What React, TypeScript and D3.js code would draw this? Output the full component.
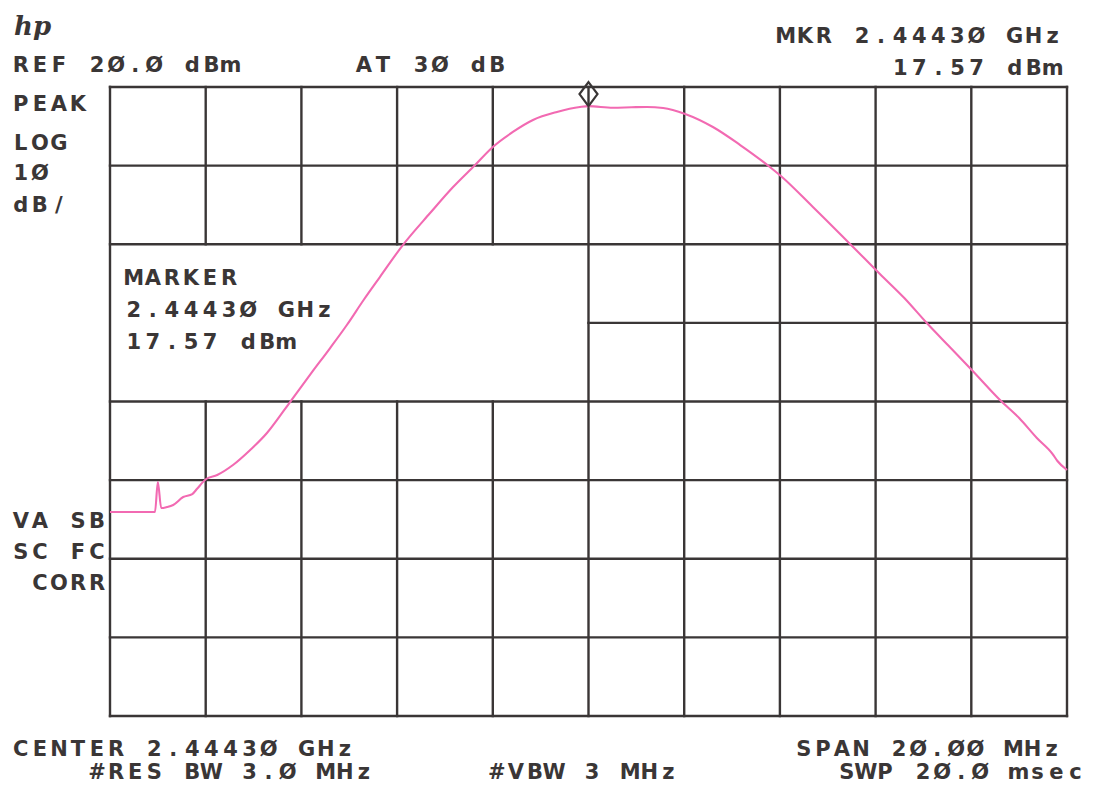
import React from "react";
import * as d3 from "d3";

// Swept trace: frequency (MHz) and level (dBm)
const freqMHz = [
  2434.3, 2435.24, 2435.3, 2435.37, 2435.49, 2435.62, 2435.83, 2436.02, 2436.12,
  2436.31, 2436.54, 2436.87, 2437.23, 2437.58, 2437.92, 2438.1, 2438.33, 2438.54,
  2438.9, 2439.25, 2439.6, 2439.94, 2440.42, 2440.99, 2441.47, 2441.93, 2442.3,
  2442.72, 2443.14, 2443.64, 2444.12, 2444.3, 2444.81, 2445.2, 2445.52, 2445.86,
  2446.32, 2446.9, 2447.47, 2448.09, 2448.32, 2448.99, 2449.83, 2450.39, 2450.9,
  2451.37, 2451.85, 2452.31, 2452.9, 2453.3, 2453.67, 2454.0, 2454.1, 2454.3,
];
const levelDbm = [
  -34.05, -34.05, -30.24, -33.55, -33.42, -33.16, -32.15, -31.77, -31.1,
  -29.86, -29.35, -28.08, -26.17, -24.01, -21.27, -19.75, -17.84, -16.12,
  -13.2, -10.27, -7.09, -4.17, -0.1, 3.97, 7.28, 10.08, 12.37,
  14.28, 15.8, 16.82, 17.46, 17.57, 17.36, 17.42, 17.46, 17.33,
  16.57, 14.91, 12.62, 9.83, 8.68, 4.74, -0.35, -3.78, -6.84,
  -10.02, -13.07, -15.99, -19.81, -22.1, -24.64, -26.68, -27.57, -28.71,
];

// Instrument settings
const centerMHz = 2444.3;
const spanMHz = 20;
const refLevelDbm = 20;
const dbPerDiv = 10;
const verticalDivs = 8;
const horizontalDivs = 10;
const markerMHz = 2444.3;
const markerDbm = 17.57;

// Annotation strings
const headerLeft = ["REF 2Ø.Ø dBm", "AT 3Ø dB"];
const headerRight = ["MKR 2.4443Ø GHz", "17.57 dBm"];
const modeLines = ["PEAK", "LOG", "1Ø", "dB/"];
const markerLines = ["MARKER", "2.4443Ø GHz", "17.57 dBm"];
const statusLines = ["VA SB", "SC FC", " CORR"];
const footerLines = [
  "CENTER 2.4443Ø GHz",
  "    #RES BW 3.Ø MHz",
  "#VBW 3 MHz",
  "SPAN 2Ø.ØØ MHz",
  "SWP 2Ø.Ø msec",
];

const W = 1094;
const H = 797;
const plot = { left: 110, right: 1067, top: 87, bottom: 716 };
const INK = "#3a3636";
const TRACE = "#f26ab2";
const ADV = 19.06;

// Plotter-style text: every character sits in a fixed-width cell.
function PlotText({ x, y, s }: { x: number; y: number; s: string }) {
  const cells = Array.from(s)
    .map((c, i) => ({ c, cx: x + 6.8 + i * ADV }))
    .filter((d) => d.c !== " ");
  return (
    <text
      x={cells.map((d) => d.cx.toFixed(2)).join(" ")}
      y={y}
      textAnchor="middle"
      fontFamily="DejaVu Sans"
      fontWeight={700}
      fontSize={21}
      fill={INK}
    >
      {cells.map((d) => d.c).join("")}
    </text>
  );
}

export default function App() {
  const x = d3
    .scaleLinear()
    .domain([centerMHz - spanMHz / 2, centerMHz + spanMHz / 2])
    .range([plot.left, plot.right]);
  const y = d3
    .scaleLinear()
    .domain([refLevelDbm - dbPerDiv * verticalDivs, refLevelDbm])
    .range([plot.bottom, plot.top]);

  const xTicks = d3.range(horizontalDivs + 1).map((i) => centerMHz - spanMHz / 2 + (i * spanMHz) / horizontalDivs);
  const yTicks = d3.range(verticalDivs + 1).map((i) => refLevelDbm - i * dbPerDiv);

  // Blank annotation window inside the graticule (cols 0..5, rows 2..4)
  const boxX1 = x(xTicks[5]);
  const boxY0 = y(yTicks[2]);
  const boxY1 = y(yTicks[4]);

  const gridSegs: [number, number, number, number][] = [];
  xTicks.forEach((f, i) => {
    const px = x(f);
    if (i > 0 && i < 5) {
      gridSegs.push([px, plot.top, px, boxY0]);
      gridSegs.push([px, boxY1, px, plot.bottom]);
    } else {
      gridSegs.push([px, plot.top, px, plot.bottom]);
    }
  });
  yTicks.forEach((d, i) => {
    const py = y(d);
    if (i === 3) gridSegs.push([boxX1, py, plot.right, py]);
    else gridSegs.push([plot.left, py, plot.right, py]);
  });

  const pts = freqMHz.map((f, i) => [x(f), y(levelDbm[i])] as [number, number]);
  const path = d3.line().curve(d3.curveMonotoneX)(pts) || "";

  const mx = x(markerMHz);
  const my = y(markerDbm);
  const diamond = `M${mx},${my - 24} L${mx + 9},${my - 12} L${mx},${my} L${mx - 9},${my - 12} Z`;

  return (
    <svg
      width={W}
      height={H}
      viewBox={`0 0 ${W} ${H}`}
      style={{ position: "absolute", left: 0, top: 0, background: "#fff" }}
    >
      <rect x={0} y={0} width={W} height={H} fill="#fff" />
      <g stroke={INK} strokeWidth={2.4} strokeLinecap="square">
        {gridSegs.map((s, i) => (
          <line key={i} x1={s[0]} y1={s[1]} x2={s[2]} y2={s[3]} />
        ))}
      </g>
      <path d={path} fill="none" stroke={TRACE} strokeWidth={2.1} strokeLinejoin="round" />
      <path d={diamond} fill="none" stroke={INK} strokeWidth={2.2} />

      <text
        x={14}
        y={35}
        fontFamily="DejaVu Serif"
        fontStyle="italic"
        fontWeight={700}
        fontSize={26}
        fill={INK}
      >
        hp
      </text>

      <PlotText x={14} y={72} s={headerLeft[0]} />
      <PlotText x={357} y={72} s={headerLeft[1]} />
      <PlotText x={779} y={43} s={headerRight[0]} />
      <PlotText x={893.5} y={75} s={headerRight[1]} />

      {modeLines.map((s, i) => (
        <PlotText key={s} x={14} y={[111, 150, 180, 212][i]} s={s} />
      ))}
      {markerLines.map((s, i) => (
        <PlotText key={s} x={127} y={285 + i * 32} s={s} />
      ))}
      {statusLines.map((s, i) => (
        <PlotText key={s} x={14} y={528 + i * 31} s={s} />
      ))}

      <PlotText x={14} y={756} s={footerLines[0]} />
      <PlotText x={14} y={779} s={footerLines[1]} />
      <PlotText x={490} y={779} s={footerLines[2]} />
      <PlotText x={797} y={756} s={footerLines[3]} />
      <PlotText x={840} y={779} s={footerLines[4]} />
    </svg>
  );
}
